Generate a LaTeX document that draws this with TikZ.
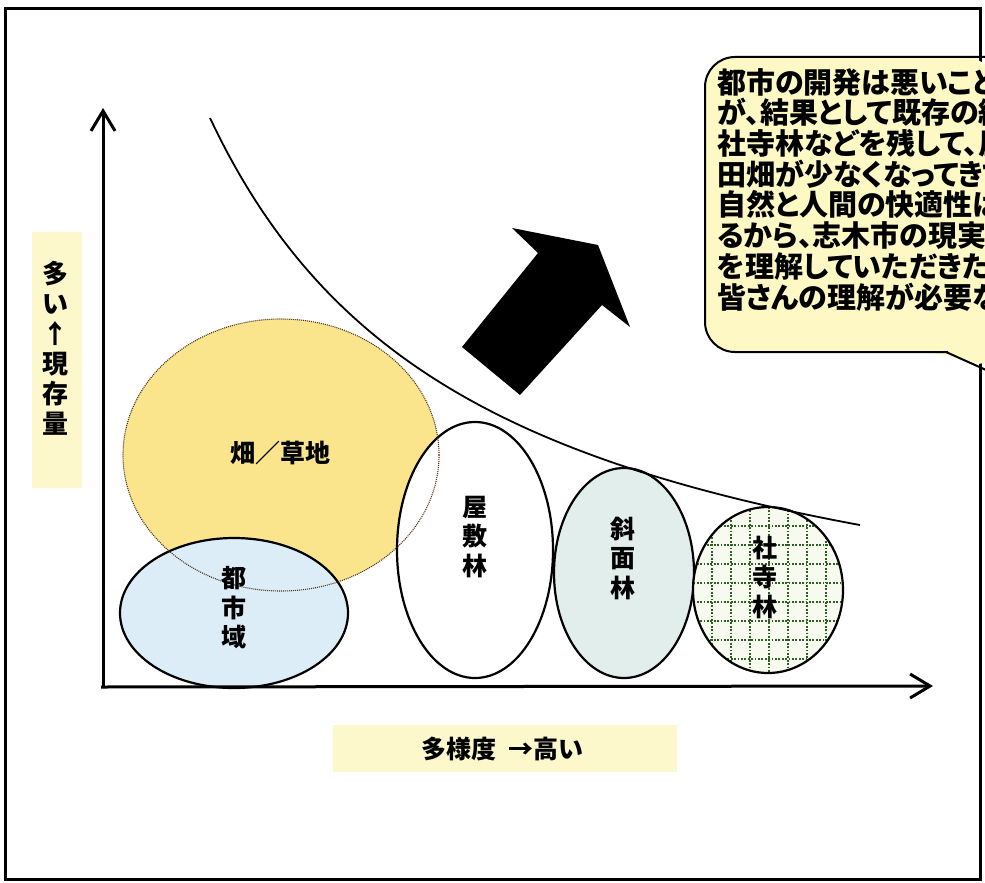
\documentclass[tikz,border=0pt]{standalone}
\usepackage{fontspec}
\newfontfamily\jp{Noto Sans CJK JP}
\newfontfamily\jpp{Noto Sans CJK JP}[RawFeature=+palt]
\usetikzlibrary{arrows.meta,shapes.geometric}
\definecolor{stripyellow}{HTML}{FCF8CC}
\definecolor{fieldyellow}{HTML}{FAE48C}
\definecolor{cityblue}{HTML}{DCEDF7}
\definecolor{slopefill}{HTML}{E2EEEC}
\definecolor{shrinefill}{HTML}{F6FAEF}
\definecolor{gridgreen}{HTML}{2F5E22}
\definecolor{calloutfill}{HTML}{FDF8C4}
\tikzset{
  frameline/.style={line width=3pt, draw=black},
  axisline/.style={line width=3pt, -{Straight Barb[length=20pt,width=24pt,line width=3pt]}},
  blob/.style={line width=2.2pt, draw=black},
  vlabel/.style={font=\jp\bfseries\fontsize{25}{29.5}\selectfont, align=center, inner sep=0pt},
  axlabel/.style={font=\jp\bfseries\fontsize{25}{30}\selectfont, align=center, inner sep=0pt},
  callouttext/.style={font=\jpp\bfseries\fontsize{29}{30.7}\selectfont, align=left, inner sep=0pt, anchor=north west}
}
\begin{document}
\begin{tikzpicture}[x=1pt,y=-1pt]
\useasboundingbox (0,0) rectangle (985,883);
\clip (0,0) rectangle (985,883);
\fill[white] (0,0) rectangle (985,883);
% outer frame
\draw[frameline] (5,9) rectangle (980,879);
% label strips
\fill[stripyellow] (32,232) rectangle (82,488);
\fill[stripyellow] (333,725) rectangle (677,772);
% fields / grassland (fill)
\fill[fieldyellow] (281,455) ellipse [x radius=158pt, y radius=136pt];
% city area
\draw[blob, fill=cityblue] (234,613) ellipse [x radius=114pt, y radius=75pt];
% yashiki forest
\draw[blob, fill=white] (475,550) ellipse [x radius=78pt, y radius=128pt];
% slope forest
\draw[blob, fill=slopefill] (624,573) ellipse [x radius=70pt, y radius=105pt];
% shrine forest with dotted grid
\fill[shrinefill] (768,590) ellipse [x radius=75pt, y radius=83pt];
\begin{scope}
\clip (768,590) ellipse [x radius=75pt, y radius=83pt];
\foreach \gx in {712,731,750,769,788,807,826}
  \draw[gridgreen, line width=1.8pt, dash pattern=on 1.8pt off 1.6pt] (\gx,500) -- (\gx,680);
\foreach \gy in {526,545,564,583,602,621,640,659}
  \draw[gridgreen, line width=1.8pt, dash pattern=on 1.8pt off 1.6pt] (690,\gy) -- (846,\gy);
\end{scope}
\draw[blob] (768,590) ellipse [x radius=75pt, y radius=83pt];
% dotted outline of the fields ellipse on top
\draw[line width=1.1pt, draw=black!60!brown, dash pattern=on 1pt off 1pt] (281,455) ellipse [x radius=158pt, y radius=136pt];
% axes
\coordinate (origin) at (103,688);
\coordinate (ytip) at (103,108);
\coordinate (xtip) at (933,686);
\draw[axisline] (origin) -- (ytip);
\draw[axisline] (101,687) -- (xtip);
% curve
\draw[line width=1.8pt] plot[domain=210:860, samples=80, smooth] (\x, {695.8 - 1575.6/((\x+62.7)/100)});
% big black arrow
\fill[black] (512,228) -- (598,245) -- (630,327) -- (602,305) -- (520,395) -- (462,347) -- (538,253) -- cycle;
% callout
\fill[calloutfill, rounded corners=30pt] (995,57) -- (705,57) -- (705,352) -- (948,352) -- (995,374) -- cycle;
\draw[line width=2pt, rounded corners=30pt] (995,57) -- (705,57) -- (705,352) -- (948,352);
\draw[line width=2pt] (946,352) -- (995,374);
\node[callouttext] (msg) at (717,68) {都市の開発は悪いこと\\が、結果として既存の緑\\社寺林などを残して、屋\\田畑が少なくなってきて\\自然と人間の快適性は\\るから、志木市の現実\\を理解していただきたい\\皆さんの理解が必要な};
% labels
\node[vlabel] (lfield) at (280,453) {畑／草地};
\node[vlabel] (lcity) at (234,608) {都\\市\\域};
\node[vlabel] (lyashiki) at (475,537) {屋\\敷\\林};
\node[vlabel] (lslope) at (623,558) {斜\\面\\林};
\node[vlabel] (lshrine) at (765,577) {社\\寺\\林};
\node[axlabel, font=\jp\bfseries\fontsize{26}{30}\selectfont] (ylab) at (55,348) {多\\い\\↑\\現\\存\\量};
\node[axlabel] (xlab) at (502,749) {多様度\hspace{12pt}→高い};
\end{tikzpicture}
\end{document}
